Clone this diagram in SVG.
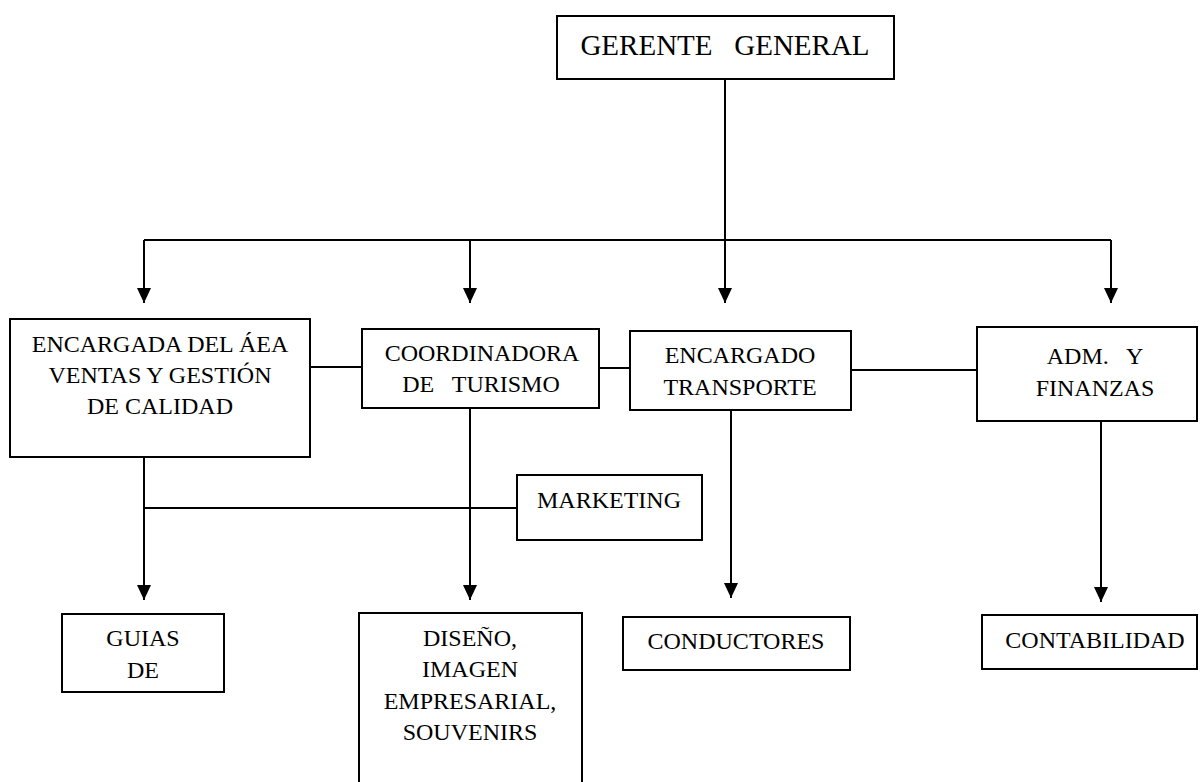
<svg xmlns="http://www.w3.org/2000/svg" width="1202" height="782" viewBox="0 0 1202 782">
  <style>
    .box { fill: #ffffff; stroke: #000000; stroke-width: 2; }
    .t { font-family: "Liberation Serif", "Times New Roman", serif; font-size: 24px; fill: #000000; text-anchor: middle; }
    .big { font-size: 29px; }
    .ln { fill: none; stroke: #000000; stroke-width: 2; }
  </style>
  <defs>
    <marker id="arr" markerUnits="userSpaceOnUse" markerWidth="16" markerHeight="14" viewBox="0 0 16 14" refX="15" refY="7" orient="auto">
      <path d="M0,0 L15,7 L0,14 z" fill="#000000"/>
    </marker>
  </defs>
  <rect width="1202" height="782" fill="#ffffff"/>

  <g id="connectors">
    <line class="ln" x1="725" y1="79" x2="725" y2="303" marker-end="url(#arr)"/>
    <line class="ln" x1="144" y1="240" x2="1111" y2="240"/>
    <line class="ln" x1="144" y1="240" x2="144" y2="303" marker-end="url(#arr)"/>
    <line class="ln" x1="470" y1="240" x2="470" y2="303" marker-end="url(#arr)"/>
    <line class="ln" x1="1111" y1="240" x2="1111" y2="303" marker-end="url(#arr)"/>
    <line class="ln" x1="310" y1="367" x2="362" y2="367"/>
    <line class="ln" x1="599" y1="368" x2="630" y2="368"/>
    <line class="ln" x1="851" y1="370" x2="977" y2="370"/>
    <line class="ln" x1="144" y1="457" x2="144" y2="600" marker-end="url(#arr)"/>
    <line class="ln" x1="144" y1="508" x2="517" y2="508"/>
    <line class="ln" x1="470" y1="408" x2="470" y2="600" marker-end="url(#arr)"/>
    <line class="ln" x1="731" y1="410" x2="731" y2="598" marker-end="url(#arr)"/>
    <line class="ln" x1="1101" y1="421" x2="1101" y2="602" marker-end="url(#arr)"/>
  </g>

  <g id="gerente">
    <rect class="box" x="557" y="16" width="337" height="63"/>
    <text class="t big" x="725" y="55" xml:space="preserve">GERENTE   GENERAL</text>
  </g>

  <g id="encargada-ventas">
    <rect class="box" x="10" y="319" width="300" height="138"/>
    <text class="t" x="160" y="352">ENCARGADA DEL ÁEA</text>
    <text class="t" x="160" y="383">VENTAS Y GESTIÓN</text>
    <text class="t" x="160" y="414">DE CALIDAD</text>
  </g>

  <g id="coordinadora">
    <rect class="box" x="362" y="329" width="237" height="79"/>
    <text class="t" x="482" y="361">COORDINADORA</text>
    <text class="t" x="481" y="392" xml:space="preserve">DE   TURISMO</text>
  </g>

  <g id="encargado-transporte">
    <rect class="box" x="630" y="331" width="221" height="79"/>
    <text class="t" x="740" y="363">ENCARGADO</text>
    <text class="t" x="740" y="395">TRANSPORTE</text>
  </g>

  <g id="adm-finanzas">
    <rect class="box" x="977" y="327" width="220" height="94"/>
    <text class="t" x="1095" y="364" xml:space="preserve">ADM.   Y</text>
    <text class="t" x="1095" y="396">FINANZAS</text>
  </g>

  <g id="marketing">
    <rect class="box" x="517" y="475" width="185" height="65"/>
    <text class="t" x="609" y="508">MARKETING</text>
  </g>

  <g id="guias">
    <rect class="box" x="62" y="614" width="162" height="78"/>
    <text class="t" x="143" y="646">GUIAS</text>
    <text class="t" x="143" y="678">DE</text>
  </g>

  <g id="diseno">
    <rect class="box" x="359" y="613" width="223" height="180"/>
    <text class="t" x="470" y="646">DISEÑO,</text>
    <text class="t" x="470" y="677">IMAGEN</text>
    <text class="t" x="470" y="709">EMPRESARIAL,</text>
    <text class="t" x="470" y="740">SOUVENIRS</text>
  </g>

  <g id="conductores">
    <rect class="box" x="623" y="617" width="227" height="53"/>
    <text class="t" x="736" y="649">CONDUCTORES</text>
  </g>

  <g id="contabilidad">
    <rect class="box" x="982" y="615" width="215" height="54"/>
    <text class="t" x="1095" y="648">CONTABILIDAD</text>
  </g>
</svg>
